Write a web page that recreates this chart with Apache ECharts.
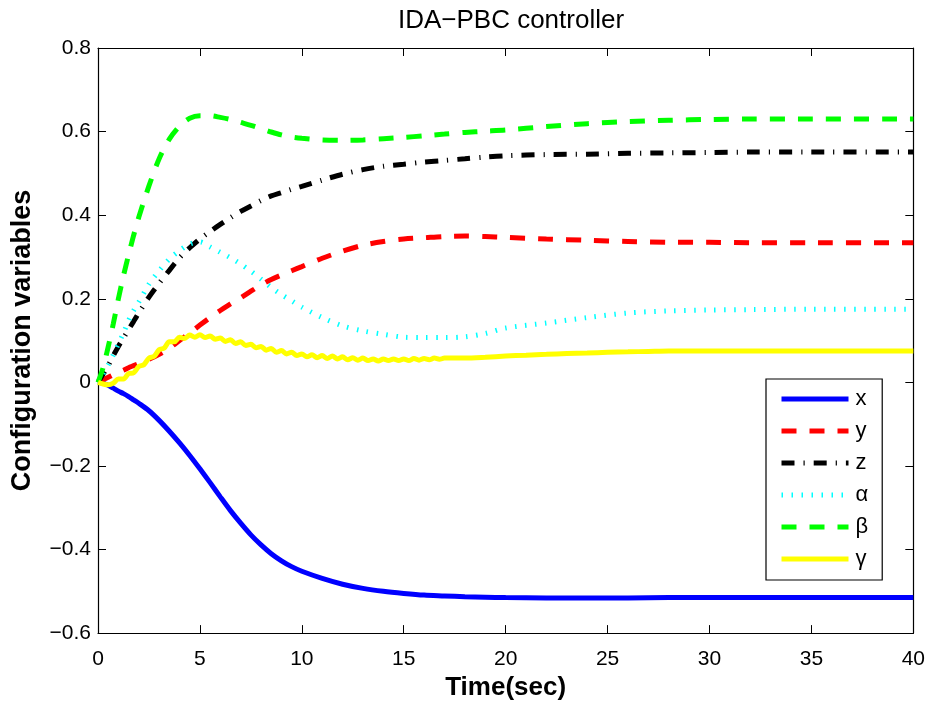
<!DOCTYPE html>
<html>
<head>
<meta charset="utf-8">
<title>IDA−PBC controller</title>
<script src="https://cdn.jsdelivr.net/npm/echarts@6/dist/echarts.min.js"></script>
<style>
  html, body { margin: 0; padding: 0; background: #fff; }
  #chart { width: 928px; height: 706px; }
</style>
</head>
<body>
<div id="chart"></div>
<script>
// Time samples (s) shared by x, y, z, alpha and beta
const timeSamples = [0, 0.25, 0.5, 0.75, 1, 1.25, 1.5, 1.75, 2, 2.5, 3, 3.5, 4, 4.5, 5, 5.5,
  6, 6.5, 7, 7.5, 8, 8.5, 9, 9.5, 10, 11, 12, 13, 14, 15, 16, 17, 18, 19, 20, 22, 24, 26,
  28, 30, 32, 35, 40];

const xValues = [0, -0.002, -0.007, -0.014, -0.021, -0.027, -0.034, -0.042, -0.050, -0.068,
  -0.091, -0.117, -0.145, -0.175, -0.207, -0.240, -0.274, -0.307, -0.337, -0.365, -0.389,
  -0.410, -0.427, -0.441, -0.452, -0.469, -0.483, -0.493, -0.500, -0.505, -0.509, -0.511,
  -0.513, -0.514, -0.515, -0.516, -0.516, -0.516, -0.515, -0.515, -0.515, -0.515, -0.515];

const yValues = [0, 0.006, 0.012, 0.018, 0.024, 0.029, 0.035, 0.040, 0.045, 0.055, 0.067,
  0.082, 0.100, 0.118, 0.137, 0.155, 0.172, 0.188, 0.202, 0.218, 0.233, 0.246, 0.257, 0.267,
  0.277, 0.297, 0.314, 0.328, 0.337, 0.343, 0.346, 0.349, 0.350, 0.349, 0.347, 0.343, 0.340,
  0.337, 0.335, 0.335, 0.334, 0.334, 0.334];

const zValues = [0, 0.020, 0.040, 0.064, 0.086, 0.106, 0.126, 0.146, 0.166, 0.204, 0.237,
  0.268, 0.298, 0.322, 0.343, 0.361, 0.378, 0.394, 0.409, 0.422, 0.435, 0.446, 0.454, 0.462,
  0.469, 0.484, 0.498, 0.509, 0.517, 0.522, 0.527, 0.531, 0.535, 0.539, 0.542, 0.545, 0.546,
  0.548, 0.549, 0.550, 0.551, 0.551, 0.551];

const alphaValues = [0, 0.020, 0.042, 0.066, 0.092, 0.118, 0.148, 0.172, 0.192, 0.235, 0.267,
  0.295, 0.315, 0.331, 0.336, 0.324, 0.311, 0.298, 0.283, 0.266, 0.247, 0.227, 0.210, 0.195,
  0.180, 0.155, 0.135, 0.123, 0.115, 0.108, 0.107, 0.107, 0.109, 0.117, 0.130, 0.142, 0.155,
  0.166, 0.171, 0.173, 0.174, 0.175, 0.175];

const betaValues = [0, 0.035, 0.085, 0.140, 0.200, 0.255, 0.305, 0.352, 0.395, 0.470, 0.535,
  0.582, 0.613, 0.632, 0.638, 0.638, 0.634, 0.629, 0.622, 0.615, 0.607, 0.599, 0.592, 0.587,
  0.584, 0.580, 0.579, 0.580, 0.583, 0.586, 0.590, 0.594, 0.598, 0.601, 0.604, 0.612, 0.619,
  0.624, 0.627, 0.629, 0.630, 0.630, 0.630];

// gamma carries a small ripple, so it is sampled more finely
const gammaTime = [0, 0.25, 0.5, 0.75, 1, 1.25, 1.5, 1.75, 2, 2.25, 2.5, 2.75, 3, 3.25, 3.5,
  3.75, 4, 4.25, 4.5, 4.75, 5, 5.25, 5.5, 5.75, 6, 6.25, 6.5, 6.75, 7, 7.25, 7.5, 7.75, 8,
  8.25, 8.5, 8.75, 9, 9.25, 9.5, 9.75, 10, 10.25, 10.5, 10.75, 11, 11.25, 11.5, 11.75, 12,
  12.25, 12.5, 12.75, 13, 13.25, 13.5, 13.75, 14, 14.25, 14.5, 14.75, 15, 15.25, 15.5, 15.75,
  16, 16.25, 16.5, 16.75, 17, 18, 19, 20, 21, 22, 23, 24, 25, 26, 27, 28, 30, 35, 40];

const gammaValues = [0, -0.004, -0.006, -0.002, 0.008, 0.008, 0.021, 0.023, 0.038, 0.042,
  0.058, 0.062, 0.078, 0.082, 0.097, 0.097, 0.108, 0.105, 0.113, 0.108, 0.114, 0.107, 0.111,
  0.103, 0.106, 0.098, 0.102, 0.093, 0.097, 0.088, 0.091, 0.083, 0.086, 0.077, 0.081, 0.072,
  0.076, 0.068, 0.072, 0.064, 0.068, 0.061, 0.066, 0.059, 0.064, 0.057, 0.063, 0.056, 0.061,
  0.054, 0.059, 0.053, 0.058, 0.052, 0.056, 0.051, 0.056, 0.052, 0.056, 0.052, 0.056, 0.052,
  0.057, 0.053, 0.057, 0.054, 0.058, 0.055, 0.058, 0.058, 0.060, 0.063, 0.065, 0.067, 0.069,
  0.070, 0.072, 0.073, 0.074, 0.075, 0.075, 0.075, 0.075];

const seriesNames = ['x', 'y', 'z', 'α', 'β', 'γ'];
const xTicks = { min: 0, max: 40, interval: 5 };
const yTicks = { min: -0.6, max: 0.8, interval: 0.2 };

const FONT = '"Liberation Sans", Arial, Helvetica, sans-serif';

function pairs(ts, vs) { return ts.map((t, i) => [t, vs[i]]); }

function fmtY(v) {
  if (Math.abs(v) < 1e-9) return '0';
  return v.toFixed(1).replace('-', '\u2212');
}

const tickStyle = { show: true, inside: true, length: 8, lineStyle: { color: '#000', width: 1 } };
const lineStyleAxis = { show: true, onZero: false, lineStyle: { color: '#000', width: 1.2 } };

function lineSeries(name, data, color, type, width, extra) {
  return {
    name: name,
    type: 'line',
    data: data,
    xAxisIndex: 0,
    yAxisIndex: 0,
    symbol: 'none',
    smooth: 0.3,
    lineStyle: Object.assign({ color: color, width: width, type: type, cap: 'butt' }, extra || {}),
    itemStyle: { color: color },
    emphasis: { disabled: true },
    z: 3
  };
}

const chart = echarts.init(document.getElementById('chart'), null, { renderer: 'canvas' });

chart.setOption({
  animation: false,
  backgroundColor: '#fff',
  textStyle: { fontFamily: FONT },
  title: {
    text: 'IDA\u2212PBC controller',
    left: 506,
    top: 3,
    textAlign: 'center',
    textStyle: { fontFamily: FONT, fontSize: 26, fontWeight: 'normal', color: '#000' }
  },
  grid: { left: 98, top: 48, width: 816, height: 591, containLabel: false },
  legend: {
    orient: 'vertical',
    left: 766,
    top: 379,
    padding: [9, 14, 10, 13],
    itemWidth: 67,
    itemHeight: 14,
    itemGap: 10,
    backgroundColor: '#fff',
    borderColor: '#000',
    borderWidth: 1.2,
    selectedMode: false,
    data: seriesNames,
    // line-only keys: hide the marker drawn in the middle of each key
    itemStyle: { opacity: 0 },
    lineStyle: { width: 'inherit', type: 'inherit', cap: 'butt', opacity: 1 },
    textStyle: { fontFamily: FONT, fontSize: 22, color: '#000', lineHeight: 22, padding: [0, 0, 0, 2] }
  },
  xAxis: [
    {
      type: 'value', position: 'bottom', ...xTicks,
      axisLine: lineStyleAxis, axisTick: tickStyle, splitLine: { show: false },
      axisLabel: { show: true, margin: 16, fontSize: 21, color: '#000', fontFamily: FONT,
        showMinLabel: true, showMaxLabel: true },
      name: 'Time(sec)', nameLocation: 'middle', nameGap: 40,
      nameTextStyle: { fontFamily: FONT, fontSize: 26, fontWeight: 'bold', color: '#000' }
    },
    {
      type: 'value', position: 'top', ...xTicks,
      axisLine: lineStyleAxis, axisTick: tickStyle, splitLine: { show: false },
      axisLabel: { show: false }
    }
  ],
  yAxis: [
    {
      type: 'value', position: 'left', ...yTicks,
      axisLine: lineStyleAxis, axisTick: tickStyle, splitLine: { show: false },
      axisLabel: { show: true, margin: 7, fontSize: 21, color: '#000', fontFamily: FONT,
        formatter: fmtY, showMinLabel: true, showMaxLabel: true },
      name: 'Configuration variables', nameLocation: 'middle', nameGap: 62,
      nameTextStyle: { fontFamily: FONT, fontSize: 27, fontWeight: 'bold', color: '#000' }
    },
    {
      type: 'value', position: 'right', ...yTicks,
      axisLine: lineStyleAxis, axisTick: tickStyle, splitLine: { show: false },
      axisLabel: { show: false }
    }
  ],
  series: [
    lineSeries('x', pairs(timeSamples, xValues), '#0000ff', 'solid', 5),
    lineSeries('y', pairs(timeSamples, yValues), '#ff0000', [15, 13], 5),
    lineSeries('z', pairs(timeSamples, zValues), '#000000', [13, 9, 1.2, 9], 5),
    lineSeries('α', pairs(timeSamples, alphaValues), '#00ffff', [1.5, 8.5], 5),
    lineSeries('β', pairs(timeSamples, betaValues), '#00ff00', [15, 13], 5),
    lineSeries('γ', pairs(gammaTime, gammaValues), '#ffff00', 'solid', 5)
  ]
});
</script>
</body>
</html>
